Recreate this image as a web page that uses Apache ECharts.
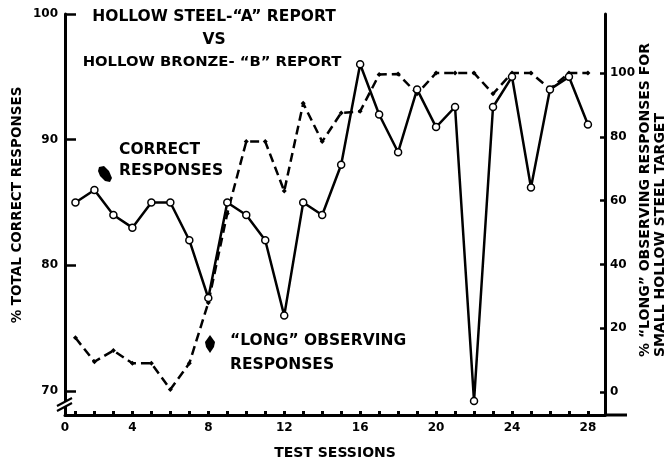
<!DOCTYPE html>
<html>
<head>
<meta charset="utf-8">
<script src="https://cdn.jsdelivr.net/npm/echarts@6/dist/echarts.min.js"></script>
<style>
html,body{margin:0;padding:0;background:#fff;}
#c{width:672px;height:463px;}
</style>
</head>
<body>
<div id="c"></div>
<script>
// ---- data ----
var sessions = [1,2,3,4,5,6,7,8,9,10,11,12,13,14,15,16,17,18,19,20,21,22,23,24,25,26,27,28];
var correctResponses = [85, 86, 84, 83, 85, 85, 82, 77.4, 85, 84, 82, 76, 85, 84, 88, 96, 92, 89, 94, 91, 92.6, 69.2, 92.6, 95, 86.2, 94, 95, 91.2];
var longObserving = [17, 9.5, 13, 9, 9, 0.8, 9, 28, 56, 78.5, 78.5, 63, 90.5, 78.5, 87.5, 88, 99.5, 99.7, 93.5, 100, 100, 100, 93.5, 100, 100, 95, 100, 100];
var xTickLabels = [0, 4, 8, 12, 16, 20, 24, 28];
var leftTickLabels = [70, 80, 90, 100];
var rightTickLabels = [0, 20, 40, 60, 80, 100];
var titleLines = ['HOLLOW STEEL-\u201CA\u201D REPORT', 'VS', 'HOLLOW BRONZE- \u201CB\u201D REPORT'];

var FONT = '"DejaVu Sans", Verdana, sans-serif';
var chart = echarts.init(document.getElementById('c'));

var xLabelVals = xTickLabels.map(function (v) { return v === 0 ? 0.45 : v; });

function txt(x, y, s, size, align, rot) {
  var o = { type: 'text', x: x, y: y, style: { text: s, fill: '#000', font: 'bold ' + size + 'px ' + FONT, textAlign: align, textVerticalAlign: 'middle' } };
  if (rot) o.rotation = rot;
  return o;
}

var option = {
  backgroundColor: '#fff',
  animation: false,
  grid: { left: 65, right: 67, top: 14, bottom: 48, containLabel: false, outerBoundsMode: 'none' },
  xAxis: {
    type: 'value', min: 0.45, max: 28.9,
    axisLine: { onZero: false, lineStyle: { color: '#000', width: 3 } },
    axisTick: { show: true, inside: true, length: 4, customValues: sessions, lineStyle: { color: '#000', width: 3 } },
    axisLabel: {
      customValues: xLabelVals, color: '#000', fontFamily: FONT, fontWeight: 'bold', fontSize: 12, margin: 7,
      hideOverlap: false, showMinLabel: true, showMaxLabel: true,
      formatter: function (v) { return v < 1 ? '0' : String(Math.round(v)); }
    },
    splitLine: { show: false },
    name: 'TEST SESSIONS', nameLocation: 'middle', nameGap: 31, nameMoveOverlap: false,
    nameTextStyle: { color: '#000', fontFamily: FONT, fontWeight: 'bold', fontSize: 14 }
  },
  yAxis: [
    {
      type: 'value', min: 68.09, max: 100, position: 'left',
      axisLine: { show: true, onZero: false, lineStyle: { color: '#000', width: 3 } },
      axisTick: { show: true, inside: true, length: 11, customValues: leftTickLabels, lineStyle: { color: '#000', width: 2.5 } },
      axisLabel: { customValues: leftTickLabels, color: '#000', fontFamily: FONT, fontWeight: 'bold', fontSize: 12, margin: 7, hideOverlap: false },
      splitLine: { show: false }
    },
    {
      type: 'value', min: -7.2, max: 118.5, position: 'right',
      axisLine: { show: true, onZero: false, lineStyle: { color: '#000', width: 3 } },
      axisTick: { show: true, inside: true, length: 5, customValues: rightTickLabels, lineStyle: { color: '#000', width: 2.5 } },
      axisLabel: { customValues: rightTickLabels, color: '#000', fontFamily: FONT, fontWeight: 'bold', fontSize: 12, margin: 5, hideOverlap: false },
      splitLine: { show: false }
    }
  ],
  series: [
    {
      type: 'line', yAxisIndex: 1, z: 2,
      data: sessions.map(function (s, i) { return [s, longObserving[i]]; }),
      symbol: 'diamond', symbolSize: 5,
      itemStyle: { color: '#000' },
      lineStyle: { color: '#000', width: 2.5, type: [9, 5] }
    },
    {
      type: 'line', yAxisIndex: 0, z: 3,
      data: sessions.map(function (s, i) { return [s, correctResponses[i]]; }),
      symbol: 'circle', symbolSize: 7, showAllSymbol: true,
      itemStyle: { color: '#fff', borderColor: '#000', borderWidth: 1.5 },
      lineStyle: { color: '#000', width: 2.5 }
    }
  ],
  graphic: [
    txt(214, 17, titleLines[0], 15.5, 'center'),
    txt(214, 40, titleLines[1], 15.5, 'center'),
    txt(212, 62, titleLines[2], 14.8, 'center'),
    txt(119, 150, 'CORRECT', 15.5, 'left'),
    txt(119, 171, 'RESPONSES', 15.5, 'left'),
    txt(230, 341, '\u201CLONG\u201D OBSERVING', 15.5, 'left'),
    txt(230, 365, 'RESPONSES', 15.5, 'left'),
    { type: 'polygon', shape: { points: [[99,167],[104,166],[109,171],[112,178],[110,182],[105,181],[100,176],[98,171]] }, style: { fill: '#000' } },
    { type: 'polygon', shape: { points: [[210,335],[215,342],[214,347],[210,353],[206,347],[205,342]] }, style: { fill: '#000' } },
    txt(17, 205, '% TOTAL CORRECT RESPONSES', 13.5, 'center', Math.PI / 2),
    txt(645, 357, '% \u201CLONG\u201D OBSERVING RESPONSES FOR', 14, 'left', Math.PI / 2),
    txt(660, 357, 'SMALL HOLLOW STEEL TARGET', 14, 'left', Math.PI / 2),
    { type: 'line', shape: { x1: 605, y1: 415, x2: 627, y2: 415 }, style: { stroke: '#000', lineWidth: 3 } },
    { type: 'polygon', shape: { points: [[57,406],[72,398],[72,403],[57,411]] }, style: { fill: '#fff' }, z: 10 },
    { type: 'line', shape: { x1: 57, y1: 406, x2: 72, y2: 398 }, style: { stroke: '#000', lineWidth: 2 }, z: 11 },
    { type: 'line', shape: { x1: 57, y1: 411, x2: 72, y2: 403 }, style: { stroke: '#000', lineWidth: 2 }, z: 11 }
  ]
};
chart.setOption(option);
</script>
</body>
</html>
